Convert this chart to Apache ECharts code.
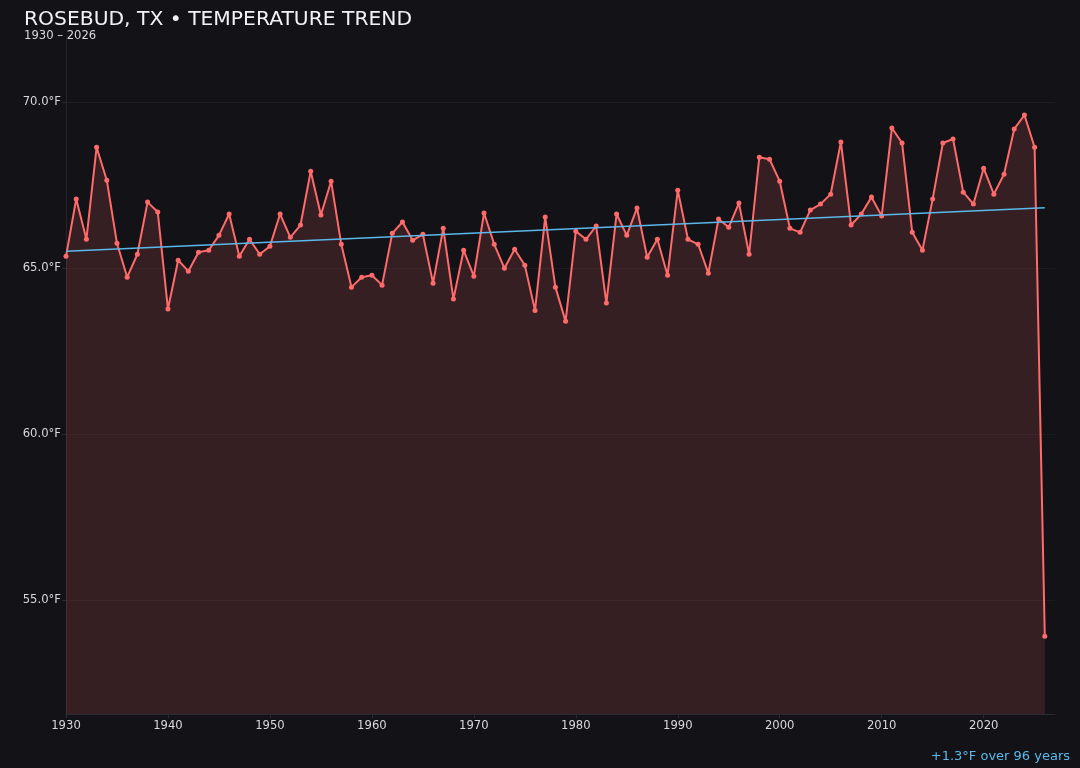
<!DOCTYPE html>
<html>
<head>
<meta charset="utf-8">
<script src="https://cdn.jsdelivr.net/npm/echarts@6/dist/echarts.min.js"></script>
<style>
html,body{margin:0;padding:0;background:#131217;}
#chart{width:1080px;height:768px;}
</style>
</head>
<body>
<div id="chart"></div>
<script>
const years = [];
for (let y = 1930; y <= 2026; y++) years.push(y);

const temps = [
  65.36, 67.08, 65.87, 68.64, 67.65, 65.75, 64.73, 65.42, 66.99, 66.69,
  63.77, 65.24, 64.91, 65.48, 65.54, 65.99, 66.63, 65.36, 65.87, 65.42,
  65.66, 66.63, 65.93, 66.30, 67.92, 66.60, 67.62, 65.72, 64.43, 64.73,
  64.79, 64.49, 66.05, 66.39, 65.84, 66.02, 64.55, 66.20, 64.07, 65.54,
  64.76, 66.66, 65.72, 65.00, 65.57, 65.09, 63.73, 66.54, 64.43, 63.40,
  66.11, 65.87, 66.27, 63.95, 66.63, 65.99, 66.81, 65.33, 65.87, 64.79,
  67.35, 65.87, 65.72, 64.85, 66.48, 66.23, 66.96, 65.42, 68.34, 68.28,
  67.62, 66.20, 66.08, 66.75, 66.93, 67.23, 68.80, 66.30, 66.63, 67.14,
  66.57, 69.22, 68.77, 66.08, 65.54, 67.08, 68.77, 68.89, 67.29, 66.93,
  68.01, 67.23, 67.83, 69.19, 69.61, 68.64, 53.92
];

const trendYears = [1930, 2026];
const trendValues = [65.51, 66.82];

const xTicks = [1930, 1940, 1950, 1960, 1970, 1980, 1990, 2000, 2010, 2020];

const titleText = 'ROSEBUD, TX \u2022 TEMPERATURE TREND';
const subtitleText = years[0] + ' \u2013 ' + years[years.length - 1];
const change = trendValues[1] - trendValues[0];
const annotationText = (change >= 0 ? '+' : '') + change.toFixed(1) + '\u00B0F over ' + (trendYears[1] - trendYears[0]) + ' years';

const font = 'DejaVu Sans';
const chart = echarts.init(document.getElementById('chart'));
chart.setOption({
  backgroundColor: '#131217',
  animation: false,
  textStyle: { fontFamily: font },
  grid: { left: 66, right: 25, top: 37, bottom: 54, containLabel: false },
  xAxis: {
    type: 'value',
    min: 1930,
    max: 2027,
    interval: 10,
    axisLine: { show: true, lineStyle: { color: '#2a2a33', width: 1 } },
    axisTick: { show: true, length: 4, lineStyle: { color: '#2a2a33' } },
    axisLabel: {
      color: '#d8d8de', fontSize: 11.6, fontFamily: font, margin: 6,
      showMaxLabel: false,
      formatter: v => (xTicks.indexOf(v) >= 0 ? String(v) : '')
    },
    splitLine: { show: false }
  },
  yAxis: {
    type: 'value',
    min: 51.58,
    max: 71.96,
    axisLine: { show: true, lineStyle: { color: '#24242c', width: 1 } },
    axisTick: { show: true, length: 4, lineStyle: { color: '#2a2a33' } },
    axisLabel: {
      color: '#d8d8de', fontSize: 11.6, fontFamily: font, margin: 5,
      showMinLabel: false, showMaxLabel: false,
      formatter: v => (Math.abs(v % 5) < 1e-6 ? v.toFixed(1) + '\u00B0F' : '')
    },
    splitLine: {
      show: true,
      showMinLine: false,
      showMaxLine: false,
      lineStyle: { color: 'rgba(255,255,255,0.045)', width: 1 }
    }
  },
  series: [
    {
      type: 'line',
      data: years.map((y, i) => [y, temps[i]]),
      symbol: 'circle',
      symbolSize: 5,
      showSymbol: true,
      lineStyle: { color: '#ff6b6b', width: 2 },
      itemStyle: { color: '#ff6b6b' },
      areaStyle: { color: '#ff6b6b', opacity: 0.15, origin: 'start' },
      z: 3
    },
    {
      type: 'line',
      data: trendYears.map((y, i) => [y, trendValues[i]]),
      symbol: 'none',
      lineStyle: { color: '#5cb8ea', width: 1.5 },
      z: 4
    }
  ],
  graphic: [
    {
      type: 'text', left: 24, top: 10,
      style: { text: titleText, fill: '#f2f2f5', font: '20.3px "DejaVu Sans"' }
    },
    {
      type: 'text', left: 24, top: 30,
      style: { text: subtitleText, fill: '#d8d8de', font: '11.6px "DejaVu Sans"' }
    },
    {
      type: 'text', right: 10, top: 750,
      style: { text: annotationText, fill: '#5cb8ea', font: '13px "DejaVu Sans"' }
    }
  ]
});
</script>
</body>
</html>
